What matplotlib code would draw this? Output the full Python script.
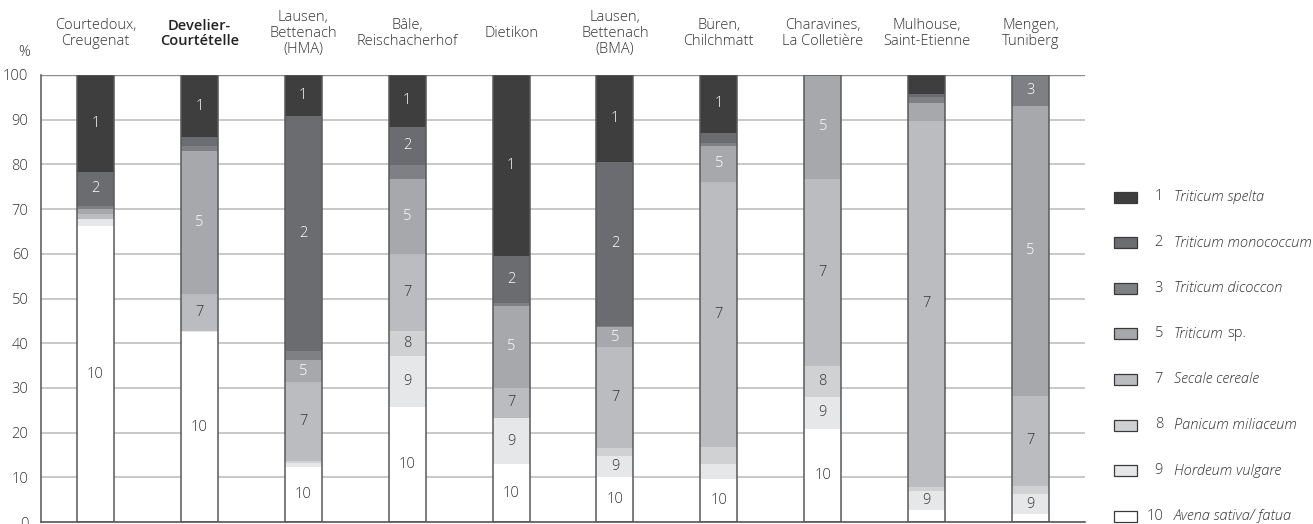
import matplotlib
matplotlib.use("Agg")
import matplotlib.pyplot as plt
from matplotlib.patches import Rectangle

plt.rcParams["font.family"] = ["Open Sans", "DejaVu Sans"]
plt.rcParams["font.weight"] = "light"

# Sites (columns) and their share (%) of each cereal taxon
sites = [
    "Courtedoux,\nCreugenat",
    "Develier-\nCourtételle",
    "Lausen,\nBettenach\n(HMA)",
    "Bâle,\nReischacherhof",
    "Dietikon",
    "Lausen,\nBettenach\n(BMA)",
    "Büren,\nChilchmatt",
    "Charavines,\nLa Colletière",
    "Mulhouse,\nSaint-Etienne",
    "Mengen,\nTuniberg",
]
bold_site = "Develier-\nCourtételle"

spelta      = [21.6, 13.9,  9.1, 11.6, 40.6, 19.4, 12.9,  0.0,  4.3,  0.0]
monococcum  = [ 7.6,  1.9, 52.6,  8.5, 10.3, 36.7,  2.4,  0.0,  0.7,  0.0]
dicoccon    = [ 0.8,  1.1,  2.1,  3.1,  0.8,  0.3,  0.5,  0.0,  1.2,  6.9]
triticum_sp = [ 1.2, 32.2,  4.9, 16.8, 18.3,  4.5,  8.1, 23.2,  4.0, 64.9]
secale      = [ 1.1,  8.2, 17.6, 17.3,  6.7, 22.5, 59.3, 41.9, 81.9, 20.1]
panicum     = [ 0.0,  0.0,  0.5,  5.6,  0.0,  1.8,  3.8,  6.9,  1.0,  1.8]
hordeum     = [ 1.5,  0.2,  0.8, 11.3, 10.4,  4.8,  3.3,  7.2,  4.2,  4.6]
avena       = [66.2, 42.5, 12.4, 25.8, 12.9, 10.0,  9.7, 20.8,  2.7,  1.7]

# taxon codes, stacked from the bottom up
codes = [10, 9, 8, 7, 5, 3, 2, 1]
series = {1: spelta, 2: monococcum, 3: dicoccon, 5: triticum_sp,
          7: secale, 8: panicum, 9: hordeum, 10: avena}

# which codes are written inside each column
labelled = [
    [1, 2, 10], [1, 5, 7, 10], [1, 2, 5, 7, 10], [1, 2, 5, 7, 8, 9, 10],
    [1, 2, 5, 7, 9, 10], [1, 2, 5, 7, 9, 10], [1, 5, 7, 10],
    [5, 7, 8, 9, 10], [7, 9], [3, 5, 7, 9],
]

legend_codes = [1, 2, 3, 5, 7, 8, 9, 10]
legend_names = ["Triticum spelta", "Triticum monococcum", "Triticum dicoccon",
                "Triticum", "Secale cereale", "Panicum miliaceum",
                "Hordeum vulgare", "Avena sativa/ fatua"]

colors = {1: "#3e3e3f", 2: "#6b6c70", 3: "#7f8083", 5: "#a7a8ab",
          7: "#bbbcbf", 8: "#d0d1d3", 9: "#e6e7e8", 10: "#ffffff"}
text_dark = "#333333"

W, H = 1313, 524
fig = plt.figure(figsize=(W / 100, H / 100), dpi=100)
ax = fig.add_axes([41 / W, 2 / H, (1085 - 41) / W, (522 - 75) / H])
ax.set_xlim(-0.525, 9.525)
ax.set_ylim(0, 100)

x = list(range(len(sites)))
bw = 0.356

# grid
for g in range(10, 100, 10):
    ax.axhline(g, color="#c4c4c4", lw=1.3, zorder=0)
ax.axhline(100, color="#8c8c8c", lw=1.0, zorder=0)
ax.axhline(0, color="#555555", lw=1.2, zorder=4, clip_on=False)

# stacked columns
bottom = [0.0] * len(sites)
for c in codes:
    vals = series[c]
    ax.bar(x, vals, bw, bottom=bottom, color=colors[c], linewidth=0, zorder=2)
    for i, v in enumerate(vals):
        if c in labelled[i]:
            tc = "white" if c <= 5 else text_dark
            ax.text(i, bottom[i] + v / 2, str(c), ha="center", va="center",
                    fontsize=10.5, color=tc, zorder=5)
    bottom = [b + v for b, v in zip(bottom, vals)]

ax.bar(x, bottom, bw, fill=False, edgecolor="#58595b", linewidth=1.1, zorder=3)

# axes cosmetics
for s in ["top", "right", "bottom"]:
    ax.spines[s].set_visible(False)
ax.spines["left"].set_color("#555555")
ax.spines["left"].set_linewidth(1.1)
ax.set_xticks([])
ax.set_yticks(range(0, 101, 10))
ax.tick_params(axis="y", length=0, pad=9, labelsize=10.5, labelcolor=text_dark)
fig.text(24 / W, 1 - 53 / H, "%", ha="center", va="center", fontsize=10.5,
         color=text_dark)

# site names above the columns
for i, name in enumerate(sites):
    ax.text(i, 109.3, name, ha="center", va="center", fontsize=10.5,
            color=text_dark if name != bold_site else "#222222",
            fontweight="semibold" if name == bold_site else "light",
            linespacing=1.1, clip_on=False)

# legend
fig.canvas.draw()
renderer = fig.canvas.get_renderer()
row0, step = 197, 45.6
for k, (c, nm) in enumerate(zip(legend_codes, legend_names)):
    yc = row0 + k * step
    fig.patches.append(Rectangle((1114 / W, 1 - (yc + 5.5) / H), 23 / W, 11 / H,
                                 transform=fig.transFigure, facecolor=colors[c],
                                 edgecolor="#3a3a3a", linewidth=0.9))
    fig.text(1163 / W, 1 - yc / H, str(c), ha="right", va="center",
             fontsize=10.5, color=text_dark)
    t = fig.text(1174 / W, 1 - yc / H, nm, ha="left", va="center",
                 fontsize=10.5, style="italic", color=text_dark)
    if c == 5:
        bb = t.get_window_extent(renderer)
        fig.text((bb.x1 + 4) / W, 1 - yc / H, "sp.", ha="left", va="center",
                 fontsize=10.5, color=text_dark)

fig.savefig("out.png", dpi=100)
